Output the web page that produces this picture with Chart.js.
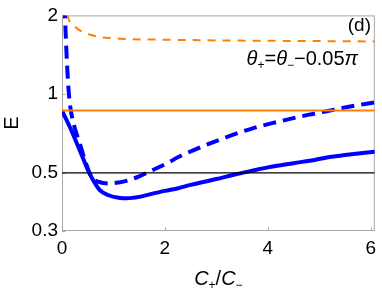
<!DOCTYPE html>
<html><head><meta charset="utf-8">
<script src="https://cdn.jsdelivr.net/npm/chart.js@4"></script>
<style>html,body{margin:0;padding:0;background:#fff}canvas{display:block}</style>
</head><body>
<canvas id="c" width="382" height="289"></canvas>
<script>
const xTicks=[0,2,4,6];
const yTicks=[0.3,0.5,1,2];
const yTickLabels=['0.3','0.5','1','2'];
const refX=[0,6.08];
const blackY=[0.5,0.5];
const orangeSolidY=[0.866,0.866];
const orangeDashX=[0.08,0.11,0.2,0.34,0.5,0.69,1.0,1.2,2,3,4,5,6.08];
const orangeDashY=[2.3,2.0,1.86,1.756,1.70,1.659,1.635,1.626,1.615,1.605,1.60,1.595,1.59];
const blueSolidX=[0,0.15,0.34,0.53,0.73,0.92,1.1,1.26,1.5,1.7,2.0,2.26,2.5,3.0,3.34,3.7,4.0,4.5,4.93,5.12,5.5,6.08];
const blueSolidY=[0.866,0.751,0.614,0.5,0.431,0.41,0.402,0.400,0.405,0.414,0.427,0.437,0.450,0.474,0.492,0.510,0.525,0.545,0.562,0.572,0.585,0.603];
const blueDashX=[0.03,0.057,0.09,0.134,0.172,0.25,0.344,0.42,0.535,0.6,0.7,0.8,0.92,1.1,1.3,1.5,1.68,2.07,2.26,2.45,2.89,3.69,4.17,4.8,5.12,5.6,6.08];
const blueDashY=[2.6,2.0,1.4,1.0,0.866,0.74,0.65,0.58,0.5,0.475,0.463,0.458,0.456,0.46,0.469,0.485,0.504,0.548,0.575,0.598,0.65,0.739,0.782,0.835,0.859,0.897,0.930];
const FONT='"Liberation Sans", Arial, sans-serif';
const pts=(xs,ys)=>xs.map((x,i)=>({x:x,y:ys[i]}));
function runs(ctx,parts,x,y){parts.forEach(p=>{ctx.font=p.f;ctx.fillText(p.t,x,y+(p.dy||0));x+=ctx.measureText(p.t).width;});}
function width(ctx,parts){let w=0;parts.forEach(p=>{ctx.font=p.f;w+=ctx.measureText(p.t).width;});return w;}
const deco={id:'deco',
 beforeDatasetsDraw(chart){const {ctx,chartArea:a,scales}=chart;ctx.save();
  ctx.strokeStyle='#a8a8a8';ctx.lineWidth=1;
  ctx.strokeRect(a.left+0.5,a.top+0.5,a.right-a.left-1,a.bottom-a.top-1);
  ctx.beginPath();
  xTicks.forEach(v=>{const p=Math.round(scales.x.getPixelForValue(v))+0.5;ctx.moveTo(p,a.bottom);ctx.lineTo(p,a.bottom-3.5);});
  yTicks.forEach(v=>{const p=Math.round(scales.y.getPixelForValue(v))+0.5;ctx.moveTo(a.left,p);ctx.lineTo(a.left+3.5,p);});
  ctx.stroke();ctx.restore();},
 afterDraw(chart){const {ctx,chartArea:a}=chart;ctx.save();ctx.fillStyle='#000';ctx.textBaseline='alphabetic';
  const big='20px '+FONT, bigI='italic 20px '+FONT, sub='12px '+FONT;
  const dp=[{t:'(d)',f:'19px '+FONT}];
  runs(ctx,dp,371-width(ctx,dp),31);
  const ann=[{t:'θ',f:bigI},{t:'+',f:sub,dy:4},{t:'=',f:big},{t:'θ',f:bigI},{t:'−',f:sub,dy:4},{t:'−0.05',f:big},{t:'π',f:bigI}];
  runs(ctx,ann,358-width(ctx,ann),65);
  const tp=[{t:'C',f:'italic 20px '+FONT},{t:'+',f:'12px '+FONT,dy:4},{t:'/',f:'20px '+FONT},{t:'C',f:'italic 20px '+FONT},{t:'−',f:'12px '+FONT,dy:4}];
  runs(ctx,tp,(a.left+a.right)/2-width(ctx,tp)/2,285);
  ctx.restore();}
};
new Chart(document.getElementById('c'),{
 type:'line',
 data:{datasets:[
  {data:pts(refX,blackY),borderColor:'#000',borderWidth:1.2,pointRadius:0,clip:0},
  {data:pts(refX,orangeSolidY),borderColor:'#ff8000',borderWidth:2,pointRadius:0,clip:0},
  {data:pts(orangeDashX,orangeDashY),borderColor:'#ff8000',borderWidth:2,borderDash:[8,7],pointRadius:0,cubicInterpolationMode:'monotone',clip:0},
  {data:pts(blueSolidX,blueSolidY),borderColor:'#0000ff',borderWidth:4,pointRadius:0,cubicInterpolationMode:'monotone',clip:0},
  {data:pts(blueDashX,blueDashY),borderColor:'#0000ff',borderWidth:4,borderDash:[13,7],pointRadius:0,cubicInterpolationMode:'monotone',clip:0}
 ]},
 options:{responsive:false,animation:false,devicePixelRatio:1,
  layout:{padding:{top:8,right:2,left:0,bottom:0}},
  plugins:{legend:{display:false},tooltip:{enabled:false}},
  scales:{
   x:{type:'linear',min:0,max:6.08,grid:{display:false,drawTicks:false},border:{display:false},
      afterBuildTicks:s=>{s.ticks=xTicks.map(v=>({value:v}));},
      afterFit:s=>{s.height=58;},
      ticks:{padding:6,color:'#000',font:{family:FONT,size:19},callback:v=>String(v),maxRotation:0,autoSkip:false}},
   y:{type:'logarithmic',min:0.3,max:2,grid:{display:false,drawTicks:false},border:{display:false},
      afterBuildTicks:s=>{s.ticks=yTicks.map(v=>({value:v}));},
      afterFit:s=>{s.width=62;},
      ticks:{padding:4,color:'#000',font:{family:FONT,size:19},callback:(v)=>{const i=yTicks.indexOf(v);return i>=0?yTickLabels[i]:'';},autoSkip:false},
      title:{display:true,text:'E',color:'#000',font:{family:FONT,size:20},padding:{top:0,bottom:0}}}
  }},
 plugins:[deco]
});
</script>
</body></html>
